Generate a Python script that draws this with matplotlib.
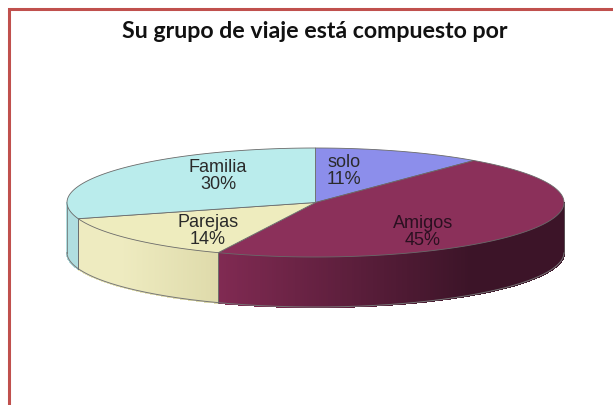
# -*- coding: utf-8 -*-
import numpy as np
import matplotlib
matplotlib.use('Agg')
import matplotlib.pyplot as plt

categorias = ['solo', 'Amigos', 'Parejas', 'Familia']
valores = [11, 45.4, 13.8, 29.8]
colores = ['#8C8EEB', '#8B305A', '#EEECBE', '#BAECEC']
titulo = 'Su grupo de viaje está compuesto por'

#tamaño de la torta en pixeles
cx, cy = 315.5, 203.5
a, b = 248.5, 54.5
alto = 50


def lado_color(nombre, x):
    #degradado del costado segun x
    if nombre == 'Amigos':
        c0 = np.array([128, 42, 82])
        c1 = np.array([60, 20, 40])
        s = min(1, max(0, (x - 219) / 250.0))
        return tuple((c0 + (c1 - c0) * s) / 255.0)
    if nombre == 'Parejas':
        c0 = np.array([238, 235, 192])
        c1 = np.array([222, 218, 170])
        s = min(1, max(0, (x - 120) / 100.0))
        return tuple((c0 + (c1 - c0) * s) / 255.0)
    if nombre == 'Familia':
        return (176 / 255.0, 222 / 255.0, 224 / 255.0)
    return (0.4, 0.4, 0.7)


fig = plt.figure(figsize=(6.13, 4.06), dpi=100)
ax = fig.add_axes([0, 0, 1, 1])
ax.set_xlim(0, 613)
ax.set_ylim(406, 0)
ax.axis('off')

#borde rojo
ax.plot([8.5, 8.5, 613], [406, 9.5, 9.5], color='#C0504D', lw=2.2, solid_joinstyle='miter')

ax.text(315, 32, titulo, ha='center', va='center', fontsize=16.7, fontweight='bold',
        family='Lato', color='#111111')

total = float(sum(valores))
acum = np.cumsum([0] + valores) / total * 2 * np.pi

#costado primero
for i in range(len(valores)):
    ang = np.linspace(acum[i], acum[i + 1], 300)
    ang = ang[np.cos(ang) <= 0.0]
    if len(ang) < 2:
        continue
    for k in range(len(ang) - 1):
        x1, x2 = cx + a * np.sin(ang[k]), cx + a * np.sin(ang[k + 1])
        y1, y2 = cy - b * np.cos(ang[k]), cy - b * np.cos(ang[k + 1])
        c = lado_color(categorias[i], (x1 + x2) / 2)
        ax.fill([x1, x2, x2, x1], [y1, y2, y2 + alto, y1 + alto], color=c, lw=1.0,
                antialiased=False, zorder=2)
    xs = cx + a * np.sin(ang)
    ys = cy - b * np.cos(ang)
    ax.plot(xs, ys + alto, color='#777777', lw=0.7, zorder=3)
    ax.plot([xs[0], xs[0]], [ys[0], ys[0] + alto], color='#666666', lw=0.5, zorder=3)
    ax.plot([xs[-1], xs[-1]], [ys[-1], ys[-1] + alto], color='#666666', lw=0.5, zorder=3)

#cara superior
for i in range(len(valores)):
    ang = np.linspace(acum[i], acum[i + 1], 200)
    xs = np.concatenate([[cx], cx + a * np.sin(ang)])
    ys = np.concatenate([[cy], cy - b * np.cos(ang)])
    ax.fill(xs, ys, facecolor=colores[i], edgecolor='#6A6A6A', lw=0.6, zorder=4, joinstyle='round')

#etiquetas
pos_etiq = [(344, 171), (423, 232), (208, 231), (218, 176)]
for i in range(len(valores)):
    txt = '{0}\n{1}%'.format(categorias[i], int(round(valores[i])))
    ax.text(pos_etiq[i][0], pos_etiq[i][1], txt, ha='center', va='center', fontsize=13,
            family='Liberation Sans', color='#2A2A2A' if categorias[i] != 'Amigos' else '#2A1020',
            linespacing=1.05, zorder=5)

plt.savefig('out.png', dpi=100)
